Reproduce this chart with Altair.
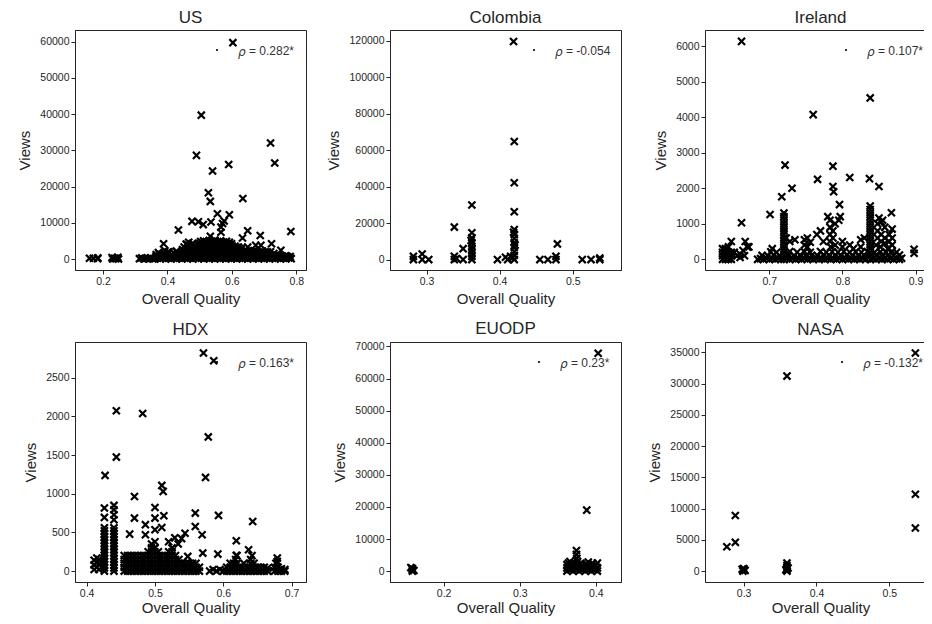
import altair as alt
import pandas as pd

# ---------------- data ----------------
panel_names = ["US", "Colombia", "Ireland", "HDX", "EUODP", "NASA"]
rho_labels = ["ρ = 0.282*", "ρ = -0.054", "ρ = 0.107*", "ρ = 0.163*", "ρ = 0.23*", "ρ = -0.132*"]

us_points = [
    (0.603, 59700), (0.505, 39700), (0.490, 28600), (0.720, 32000), (0.733, 26500),
    (0.590, 26100), (0.540, 24300), (0.527, 18300), (0.533, 15900), (0.634, 16700),
    (0.555, 12500), (0.592, 12200), (0.476, 10400), (0.496, 10300), (0.511, 9500),
    (0.535, 10200), (0.571, 9800), (0.576, 10500), (0.566, 7400), (0.566, 8800),
    (0.434, 8000), (0.649, 7800), (0.688, 6500), (0.633, 5800), (0.783, 7600),
    (0.388, 4200), (0.674, 3800), (0.690, 3800), (0.723, 4200), (0.752, 2400),
    (0.649, 3300), (0.533, 6300), (0.462, 4000), (0.720, 2000),
    (0.158, 200), (0.170, 200), (0.184, 300), (0.183, 100), (0.228, 400), (0.236, 200),
    (0.246, 500), (0.240, 100), (0.230, 0), (0.248, 0), (0.313, 100), (0.320, 300),
    (0.327, 0), (0.333, 200), (0.340, 100), (0.347, 300), (0.355, 0),
    # dense band, bottom rows
    (0.361, 100), (0.369, 300), (0.378, 0), (0.386, 200), (0.395, 100), (0.404, 300),
    (0.411, 0), (0.420, 200), (0.428, 100), (0.437, 300), (0.445, 0), (0.454, 200),
    (0.462, 100), (0.471, 300), (0.479, 0), (0.488, 200), (0.496, 100), (0.505, 300),
    (0.513, 0), (0.522, 200), (0.530, 100), (0.539, 300), (0.547, 0), (0.556, 200),
    (0.564, 100), (0.573, 300), (0.581, 0), (0.590, 200), (0.598, 100), (0.607, 300),
    (0.615, 0), (0.624, 200), (0.632, 100), (0.641, 300), (0.649, 0), (0.658, 200),
    (0.666, 100), (0.675, 300), (0.683, 0), (0.692, 200), (0.700, 100), (0.709, 300),
    (0.717, 0), (0.726, 200), (0.734, 100), (0.743, 300), (0.751, 0), (0.760, 200),
    (0.768, 100), (0.777, 300), (0.784, 100),
    (0.364, 600), (0.373, 700), (0.382, 600), (0.390, 700), (0.399, 600), (0.408, 700),
    (0.416, 600), (0.425, 700), (0.433, 600), (0.442, 700), (0.450, 600), (0.459, 700),
    (0.467, 600), (0.476, 700), (0.484, 600), (0.493, 700), (0.501, 600), (0.510, 700),
    (0.518, 600), (0.527, 700), (0.535, 600), (0.544, 700), (0.552, 600), (0.561, 700),
    (0.569, 600), (0.578, 700), (0.586, 600), (0.595, 700), (0.603, 600), (0.612, 700),
    (0.620, 600), (0.629, 700), (0.637, 600), (0.646, 700), (0.654, 600), (0.663, 700),
    (0.671, 600), (0.680, 700), (0.688, 600), (0.697, 700), (0.705, 600), (0.714, 700),
    (0.722, 600), (0.731, 700), (0.739, 600), (0.748, 700), (0.756, 600), (0.765, 700),
    (0.773, 600), (0.781, 700),
    (0.365, 1200), (0.375, 1400), (0.384, 1100), (0.393, 1300), (0.402, 1500),
    (0.413, 1200), (0.423, 1400), (0.433, 1100), (0.441, 1600), (0.451, 1300),
    (0.460, 1500), (0.468, 1200), (0.477, 1400), (0.486, 1300), (0.494, 1500),
    (0.503, 1200), (0.511, 1400), (0.519, 1300), (0.528, 1500), (0.536, 1200),
    (0.545, 1400), (0.554, 1300), (0.562, 1500), (0.571, 1200), (0.579, 1400),
    (0.588, 1300), (0.597, 1500), (0.605, 1200), (0.614, 1400), (0.622, 1300),
    (0.631, 1500), (0.640, 1200), (0.648, 1400), (0.657, 1300), (0.666, 1200),
    (0.674, 1400), (0.683, 1100), (0.693, 1300), (0.702, 1000), (0.712, 1200),
    (0.722, 1100), (0.733, 900), (0.745, 1000), (0.757, 800), (0.768, 900),
    (0.372, 1800), (0.401, 1900), (0.430, 1800), (0.446, 1900), (0.455, 2000),
    (0.463, 1900), (0.472, 2000), (0.481, 1900), (0.489, 2000), (0.498, 1900),
    (0.507, 2000), (0.515, 1900), (0.524, 2000), (0.532, 1900), (0.541, 2000),
    (0.550, 1900), (0.558, 2000), (0.567, 1900), (0.576, 2000), (0.584, 1900),
    (0.593, 2000), (0.601, 1900), (0.610, 2000), (0.618, 1900), (0.627, 2000),
    (0.636, 1900), (0.650, 1800), (0.662, 1900), (0.675, 1800), (0.688, 1900),
    (0.700, 1700), (0.715, 1600), (0.730, 1500),
    (0.392, 2300), (0.405, 2000), (0.428, 2200), (0.447, 2600), (0.456, 2400),
    (0.466, 2700), (0.474, 2500), (0.483, 2600), (0.492, 2400), (0.501, 2700),
    (0.509, 2500), (0.517, 2600), (0.526, 2800), (0.535, 2500), (0.543, 2700),
    (0.552, 2600), (0.560, 2800), (0.569, 2500), (0.578, 2700), (0.586, 2600),
    (0.595, 2400), (0.604, 2600), (0.612, 2300), (0.621, 2500), (0.630, 2200),
    (0.642, 2400), (0.655, 2100), (0.668, 2300), (0.680, 2000), (0.695, 2200),
    (0.710, 2000),
    (0.452, 3300), (0.464, 3100), (0.472, 3200), (0.481, 3100), (0.490, 3200),
    (0.500, 3100), (0.509, 3200), (0.518, 3100), (0.527, 3200), (0.536, 3100),
    (0.545, 3200), (0.554, 3100), (0.563, 3200), (0.572, 3100), (0.580, 3200),
    (0.589, 3100), (0.598, 3200), (0.607, 3100), (0.616, 3000), (0.625, 2900),
    (0.458, 4100), (0.468, 3600), (0.476, 3900), (0.485, 3700), (0.497, 3800),
    (0.506, 3600), (0.514, 3900), (0.523, 3700), (0.531, 4000), (0.540, 3800),
    (0.548, 3900), (0.557, 3700), (0.566, 4000), (0.574, 3800), (0.583, 3700),
    (0.592, 3900), (0.601, 3600), (0.610, 3500), (0.620, 3300), (0.632, 3100),
    (0.500, 4300), (0.509, 4400), (0.518, 4300), (0.527, 4400), (0.536, 4300),
    (0.545, 4400), (0.554, 4300), (0.563, 4400), (0.572, 4300), (0.581, 4400),
    (0.590, 4300), (0.599, 4200),
    (0.466, 4600), (0.478, 4300), (0.503, 4800), (0.512, 5000), (0.521, 4700),
    (0.530, 5100), (0.538, 4900), (0.547, 5200), (0.556, 4800), (0.565, 5000),
    (0.574, 4700), (0.583, 4900), (0.592, 4600),
]

colombia_points = [
    (0.419, 119500), (0.420, 64700), (0.420, 42100), (0.420, 26200), (0.420, 16500),
    (0.420, 13700), (0.420, 11500), (0.420, 9200), (0.420, 6800), (0.420, 4600),
    (0.420, 2400), (0.420, 0), (0.418, 1200), (0.421, 8000), (0.419, 15000),
    (0.362, 29900), (0.362, 14700), (0.362, 11900), (0.362, 9200), (0.362, 7300),
    (0.362, 5500), (0.362, 3700), (0.362, 1800), (0.362, 0), (0.361, 10500),
    (0.338, 17800), (0.350, 6000), (0.338, 1800), (0.338, 0), (0.341, 600), (0.350, 0),
    (0.282, 1800), (0.282, 0), (0.294, 3100), (0.294, 0), (0.303, 0),
    (0.397, 0), (0.408, 1300), (0.411, 0), (0.415, 1800),
    (0.455, 0), (0.466, 0), (0.477, 0), (0.477, 1800), (0.479, 8600),
    (0.513, 0), (0.525, 0), (0.537, 900), (0.537, 0),
]

ireland_points = [
    (0.662, 6130), (0.838, 4540), (0.760, 4070), (0.7215, 2650), (0.731, 2000),
    (0.717, 1760), (0.701, 1260), (0.662, 1030), (0.648, 500), (0.667, 500),
    (0.672, 350), (0.787, 2620), (0.766, 2250), (0.787, 2050), (0.788, 1900),
    (0.810, 2300), (0.837, 2270), (0.850, 2050), (0.796, 1540), (0.867, 1310),
    (0.850, 1160), (0.855, 1100), (0.898, 280), (0.898, 170),
    (0.780, 1200), (0.797, 1200), (0.795, 1100), (0.783, 1100), (0.723, 600),
    (0.728, 500), (0.735, 550), (0.770, 800), (0.765, 700), (0.774, 500),
    # left block
    (0.636, 0), (0.636, 100), (0.636, 200), (0.636, 300), (0.640, 0), (0.640, 100),
    (0.640, 200), (0.640, 300), (0.644, 0), (0.644, 100), (0.644, 200), (0.644, 350),
    (0.648, 0), (0.648, 100), (0.648, 200),
    (0.652, 200), (0.656, 100), (0.660, 50), (0.660, 150), (0.664, 250), (0.666, 100),
    (0.670, 350),
    # bottom band
    (0.684, 0), (0.688, 20), (0.692, 0), (0.696, 30), (0.700, 0), (0.704, 20),
    (0.708, 0), (0.712, 30), (0.716, 0), (0.724, 20), (0.728, 0), (0.732, 30),
    (0.736, 0), (0.740, 20), (0.744, 0), (0.748, 30), (0.752, 0), (0.756, 20),
    (0.760, 0), (0.764, 30), (0.768, 0), (0.772, 20), (0.776, 0), (0.780, 30),
    (0.784, 0), (0.788, 20), (0.792, 0), (0.796, 30), (0.800, 0), (0.804, 20),
    (0.808, 0), (0.812, 30), (0.816, 0), (0.820, 20), (0.824, 0), (0.828, 30),
    (0.832, 0), (0.842, 20), (0.846, 0), (0.850, 30), (0.854, 0), (0.858, 20),
    (0.862, 0), (0.866, 30), (0.870, 0), (0.874, 20), (0.878, 0), (0.881, 30),
    (0.690, 110), (0.698, 100), (0.706, 120), (0.714, 100), (0.726, 110), (0.734, 100),
    (0.742, 120), (0.750, 100), (0.758, 110), (0.766, 100), (0.774, 120), (0.782, 100),
    (0.790, 110), (0.798, 100), (0.806, 120), (0.814, 100), (0.822, 110), (0.830, 100),
    (0.846, 120), (0.854, 100), (0.862, 110), (0.870, 100), (0.878, 120),
    (0.702, 210), (0.710, 200), (0.728, 220), (0.738, 200), (0.748, 210), (0.756, 200),
    (0.770, 220), (0.778, 200), (0.786, 210), (0.794, 200), (0.802, 220), (0.810, 200),
    (0.818, 210), (0.826, 200), (0.834, 220), (0.844, 200), (0.852, 210), (0.860, 200),
    (0.868, 220), (0.874, 200),
    (0.704, 300), (0.748, 400), (0.752, 350), (0.784, 350), (0.790, 400), (0.800, 350),
    (0.810, 400), (0.815, 300), (0.825, 350), (0.846, 400), (0.852, 350), (0.858, 450),
    (0.862, 300), (0.868, 400),
    (0.748, 550), (0.752, 600), (0.756, 480), (0.783, 500), (0.783, 700), (0.783, 900),
    (0.787, 600), (0.787, 800), (0.790, 1000), (0.800, 500), (0.825, 550), (0.830, 600),
    (0.848, 600), (0.848, 800), (0.848, 1000), (0.853, 500), (0.853, 700),
    (0.853, 1050), (0.858, 600), (0.858, 900), (0.864, 500), (0.864, 700),
    (0.868, 600), (0.868, 850),
    # two solid columns
    (0.720, 0), (0.720, 100), (0.720, 200), (0.720, 300), (0.720, 400), (0.720, 500),
    (0.720, 600), (0.720, 700), (0.720, 800), (0.720, 900), (0.720, 1000),
    (0.720, 1100), (0.720, 1200), (0.720, 1300),
    (0.838, 0), (0.838, 100), (0.838, 200), (0.838, 300), (0.838, 400), (0.838, 500),
    (0.838, 600), (0.838, 700), (0.838, 800), (0.838, 900), (0.838, 1000),
    (0.838, 1100), (0.838, 1200), (0.838, 1300), (0.838, 1400), (0.838, 1500),
]

hdx_points = [
    (0.571, 2820), (0.586, 2720), (0.4435, 2073), (0.482, 2038), (0.578, 1735),
    (0.4435, 1474), (0.427, 1237), (0.574, 1211), (0.510, 1108), (0.512, 1030),
    (0.470, 965), (0.426, 815), (0.426, 694), (0.440, 849), (0.440, 793),
    (0.440, 728), (0.440, 664), (0.500, 823), (0.500, 685), (0.470, 685),
    (0.513, 715), (0.559, 750), (0.593, 720), (0.643, 642), (0.559, 577),
    (0.510, 564), (0.486, 600), (0.500, 534), (0.463, 478), (0.569, 470),
    (0.544, 490), (0.619, 392), (0.529, 430), (0.539, 420), (0.534, 350),
    (0.525, 300), (0.520, 380), (0.637, 276), (0.570, 233), (0.592, 220),
    (0.619, 203), (0.548, 190), (0.486, 470),
    # two tall columns
    (0.426, 0), (0.426, 40), (0.426, 80), (0.426, 120), (0.426, 160), (0.426, 200),
    (0.426, 240), (0.426, 280), (0.426, 320), (0.426, 360), (0.426, 400),
    (0.426, 440), (0.426, 480), (0.426, 520), (0.426, 560),
    (0.440, 0), (0.440, 40), (0.440, 80), (0.440, 120), (0.440, 160), (0.440, 200),
    (0.440, 240), (0.440, 280), (0.440, 320), (0.440, 360), (0.440, 400),
    (0.440, 440), (0.440, 480), (0.440, 520), (0.440, 560),
    # left block
    (0.411, 20), (0.411, 80), (0.411, 140), (0.415, 50), (0.415, 110), (0.415, 170),
    (0.418, 20), (0.418, 90), (0.418, 150),
    # main band 0.455-0.535
    (0.455, 0), (0.455, 50), (0.455, 100), (0.455, 150), (0.455, 200),
    (0.460, 0), (0.460, 50), (0.460, 100), (0.460, 150), (0.460, 200),
    (0.465, 0), (0.465, 50), (0.465, 100), (0.465, 150), (0.465, 200),
    (0.470, 0), (0.470, 50), (0.470, 100), (0.470, 150), (0.470, 200),
    (0.475, 0), (0.475, 50), (0.475, 100), (0.475, 150), (0.475, 200),
    (0.480, 0), (0.480, 50), (0.480, 100), (0.480, 150), (0.480, 200),
    (0.485, 0), (0.485, 50), (0.485, 100), (0.485, 150), (0.485, 200),
    (0.490, 0), (0.490, 50), (0.490, 100), (0.490, 150), (0.490, 200), (0.490, 250),
    (0.495, 0), (0.495, 50), (0.495, 100), (0.495, 150), (0.495, 200), (0.495, 250),
    (0.495, 300), (0.495, 350),
    (0.500, 0), (0.500, 50), (0.500, 100), (0.500, 150), (0.500, 200), (0.500, 250),
    (0.500, 300), (0.500, 380),
    (0.505, 0), (0.505, 50), (0.505, 100), (0.505, 150), (0.505, 200), (0.505, 250),
    (0.510, 0), (0.510, 50), (0.510, 100), (0.510, 150), (0.510, 200),
    (0.515, 0), (0.515, 50), (0.515, 100), (0.515, 150), (0.515, 200),
    (0.520, 0), (0.520, 50), (0.520, 100), (0.520, 150), (0.520, 200), (0.520, 250),
    (0.525, 0), (0.525, 50), (0.525, 100), (0.525, 150), (0.525, 200), (0.525, 250),
    (0.530, 0), (0.530, 50), (0.530, 100), (0.530, 150), (0.530, 200),
    (0.535, 0), (0.535, 50), (0.535, 100), (0.535, 150),
    # lower bands
    (0.540, 0), (0.540, 50), (0.540, 100), (0.545, 0), (0.545, 50), (0.545, 100),
    (0.550, 0), (0.550, 50), (0.550, 100), (0.555, 0), (0.555, 50), (0.555, 100),
    (0.560, 0), (0.560, 50), (0.560, 100), (0.565, 0), (0.565, 50),
    (0.580, 0), (0.585, 20), (0.590, 0), (0.595, 20), (0.600, 0),
    (0.605, 0), (0.605, 50), (0.610, 0), (0.610, 50), (0.610, 100), (0.615, 0),
    (0.615, 50), (0.615, 100), (0.618, 150), (0.620, 0), (0.620, 50), (0.620, 100),
    (0.620, 200), (0.625, 0), (0.625, 50), (0.630, 0), (0.630, 50), (0.630, 100),
    (0.635, 0), (0.635, 50), (0.640, 0), (0.640, 50), (0.640, 100), (0.640, 150),
    (0.642, 200), (0.645, 0), (0.645, 50), (0.645, 100), (0.650, 0), (0.650, 50),
    (0.655, 0), (0.655, 50), (0.660, 0), (0.660, 50), (0.665, 0), (0.665, 40),
    (0.675, 0), (0.675, 50), (0.677, 100), (0.679, 168), (0.679, 125), (0.680, 0),
    (0.680, 50), (0.685, 0), (0.685, 30), (0.690, 0), (0.690, 20),
]

euodp_points = [
    (0.403, 67900), (0.388, 19000), (0.3745, 6400), (0.3745, 5200), (0.375, 4000),
    (0.159, 0), (0.159, 400), (0.159, 800), (0.157, 1100), (0.161, 200),
    (0.362, 0), (0.362, 1000), (0.362, 2000), (0.366, 500), (0.366, 1500),
    (0.366, 3000), (0.370, 0), (0.370, 1000), (0.370, 2000), (0.374, 500),
    (0.374, 1500), (0.376, 3000), (0.378, 0), (0.378, 1000), (0.378, 2000),
    (0.382, 500), (0.382, 1500), (0.386, 0), (0.386, 1000), (0.386, 2000),
    (0.390, 500), (0.390, 1500), (0.390, 2800), (0.394, 0), (0.394, 1000),
    (0.394, 2000), (0.398, 500), (0.398, 1500), (0.402, 0), (0.402, 1000),
    (0.402, 2500), (0.364, 2500), (0.372, 2600), (0.380, 2400), (0.388, 2200),
    (0.396, 2400), (0.400, 1800),
]

nasa_points = [
    (0.5357, 34900), (0.3595, 31200), (0.5357, 12300), (0.5357, 6900),
    (0.2886, 8900), (0.2886, 4600), (0.277, 3900),
    (0.299, 0), (0.301, 200), (0.300, 400), (0.302, 100), (0.298, 300),
    (0.3595, 0), (0.3595, 300), (0.3595, 600), (0.3595, 900), (0.3595, 1300),
    (0.358, 200), (0.361, 500),
]

all_points = [us_points, colombia_points, ireland_points, hdx_points, euodp_points, nasa_points]
x_domains = [[0.113, 0.83], [0.25, 0.566], [0.612, 0.928], [0.383, 0.721], [0.1296, 0.433], [0.247, 0.564]]
y_domains = [[-3030, 63200], [-5700, 125800], [-300, 6450], [-141, 2962], [-3400, 71400], [-1745, 36650]]
x_ticks = [[0.2, 0.4, 0.6, 0.8], [0.3, 0.4, 0.5], [0.7, 0.8, 0.9], [0.4, 0.5, 0.6, 0.7], [0.2, 0.3, 0.4], [0.3, 0.4, 0.5]]
y_ticks = [
    [0, 10000, 20000, 30000, 40000, 50000, 60000],
    [0, 20000, 40000, 60000, 80000, 100000, 120000],
    [0, 1000, 2000, 3000, 4000, 5000, 6000],
    [0, 500, 1000, 1500, 2000, 2500],
    [0, 10000, 20000, 30000, 40000, 50000, 60000, 70000],
    [0, 5000, 10000, 15000, 20000, 25000, 30000, 35000],
]
legend_text_x = [163, 165, 162, 163, 170, 158]

X_SHAPE = "M-1,-1L1,1M-1,1L1,-1"
TXT = "#262626"


def make_panel(i):
    df = pd.DataFrame(all_points[i], columns=["quality", "views"])
    pts = alt.Chart(df).mark_point(
        shape=X_SHAPE, filled=False, color="black", strokeWidth=2.2,
        size=50, opacity=1, clip=True
    ).encode(
        x=alt.X("quality:Q", title="Overall Quality",
                scale=alt.Scale(domain=x_domains[i], nice=False, zero=False),
                axis=alt.Axis(values=x_ticks[i], format=".1f",
                              titlePadding=5 if i < 3 else 2)),
        y=alt.Y("views:Q", title="Views",
                scale=alt.Scale(domain=y_domains[i], nice=False, zero=False),
                axis=alt.Axis(values=y_ticks[i], format="d", titlePadding=7)),
    )
    sym, rest = rho_labels[i].split(" ", 1)
    lab = pd.DataFrame({"sym": [sym], "rest": [rest]})
    lx = legend_text_x[i]
    dot = alt.Chart(lab).mark_point(filled=True, color="black", size=5, opacity=1).encode(
        x=alt.value(lx - 21), y=alt.value(20)
    )
    rho = alt.Chart(lab).mark_text(
        align="left", baseline="middle", fontSize=12, color="#333333",
        font="DejaVu Sans", fontStyle="italic"
    ).encode(x=alt.value(lx), y=alt.value(21.5), text="sym:N")
    txt = alt.Chart(lab).mark_text(
        align="left", baseline="middle", fontSize=12, color="#333333",
        font="Liberation Sans"
    ).encode(x=alt.value(lx + 11), y=alt.value(21), text="rest:N")
    return alt.layer(pts, dot, rho, txt).properties(
        width=231, height=240, title=alt.TitleParams(panel_names[i])
    )


chart = alt.concat(
    *[make_panel(i) for i in range(6)], columns=3,
    spacing={"row": 72, "column": 84}, bounds="flush"
).properties(
    autosize=alt.AutoSizeParams(type="none"),
    padding={"left": 67, "top": 22, "right": 849, "bottom": 586}
).configure_axis(
    grid=False, labelFont="Liberation Sans", titleFont="Liberation Sans",
    labelFontSize=10.5, titleFontSize=15, titleFontWeight="normal",
    labelColor=TXT, titleColor=TXT, tickColor=TXT, domainColor=TXT,
    tickSize=4, labelPadding=2, domain=True
).configure_view(
    stroke=TXT, strokeWidth=1
).configure_title(
    font="Liberation Sans", fontSize=17, fontWeight="normal", color=TXT,
    offset=3, anchor="middle"
)

chart.save("out.html", embed_options={"renderer": "svg", "actions": False})
